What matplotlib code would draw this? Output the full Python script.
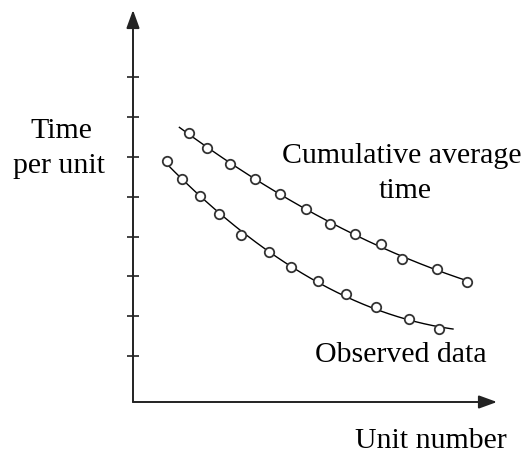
import numpy as np
import matplotlib.pyplot as plt

# learning curve readings (unit number, time per unit)
observed_x = [1.69, 2.44, 3.34, 4.30, 5.39, 6.79, 7.89, 9.25, 10.65, 12.14, 13.82, 15.32]
observed_y = [5.89, 5.45, 5.01, 4.56, 4.05, 3.62, 3.23, 2.88, 2.55, 2.23, 1.92, 1.67]

cumulative_x = [2.82, 3.72, 4.85, 6.09, 7.37, 8.64, 9.85, 11.12, 12.42, 13.44, 15.22, 16.72]
cumulative_y = [6.59, 6.21, 5.82, 5.45, 5.07, 4.68, 4.31, 4.06, 3.81, 3.44, 3.18, 2.87]

# x range covered by each smoothed trend line
observed_span = (1.57, 16.0)
cumulative_span = (2.32, 16.72)

y_ticks = [1, 2, 3, 4, 5, 6, 7, 8]

plt.rcParams['font.family'] = ['Liberation Serif', 'DejaVu Serif']
FS = 21.5
W, H = 530, 455

fig = plt.figure(figsize=(5.3, 4.55), dpi=100)
ax = fig.add_axes([133 / W, (H - 402) / H, (497 - 133) / W, (402 - 10) / H])
ax.set_xlim(0, 18.2)
ax.set_ylim(-0.15, 9.68)

for s in ax.spines.values():
    s.set_visible(False)
ax.set_xticks([])
ax.set_yticks(y_ticks)
ax.set_yticklabels([])
ax.tick_params(axis='y', direction='inout', length=8, width=1.2, color='#222222')

# axis arrows
arrow = dict(arrowstyle='-|>,head_length=1.1,head_width=0.4', mutation_scale=10,
             lw=1.4, color='#222222', shrinkA=0, shrinkB=0)
ax.annotate('', xy=(0, 1), xytext=(0, 0), xycoords='axes fraction', arrowprops=arrow)
ax.annotate('', xy=(1, 0), xytext=(0, 0), xycoords='axes fraction', arrowprops=arrow)

for xs, ys, span in [(observed_x, observed_y, observed_span),
                     (cumulative_x, cumulative_y, cumulative_span)]:
    coef = np.polyfit(xs, ys, 2)
    xx = np.linspace(span[0], span[1], 200)
    ax.plot(xx, np.polyval(coef, xx), color='black', lw=1.0, zorder=2)
    ax.plot(xs, ys, 'o', ms=6.8, mfc='white', mec='#333333', mew=1.3, zorder=3)


def label(txt, x, y):
    fig.text(x / W, 1 - y / H, txt, ha='center', va='baseline', fontsize=FS)


label('Time', 61, 138)
label('per unit', 59, 173)
label('Cumulative average', 402, 163)
label('time', 405, 198)
label('Observed data', 401, 362)
label('Unit number', 431, 448)

fig.savefig('out.png', dpi=100)
